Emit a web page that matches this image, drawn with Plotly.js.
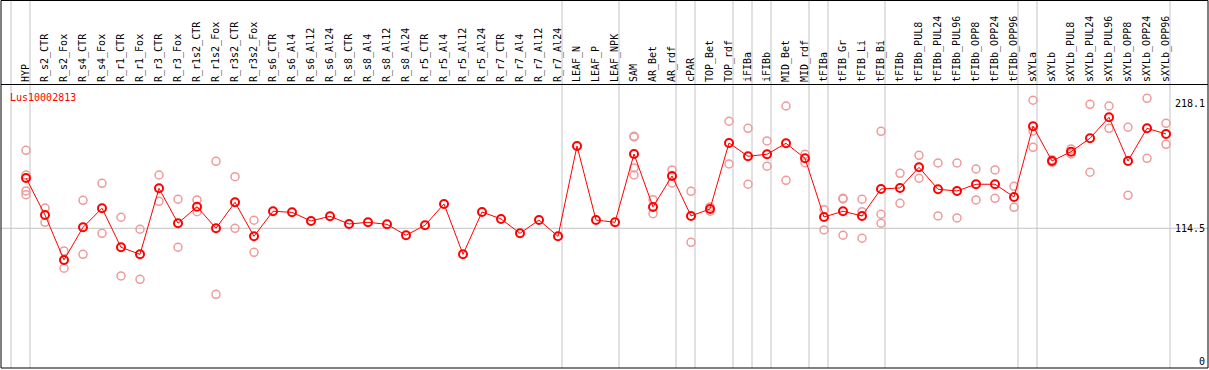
<!DOCTYPE html>
<html>
<head>
<meta charset="utf-8">
<script src="https://cdn.plot.ly/plotly-3.0.1.min.js"></script>
<style>
  html, body { margin: 0; padding: 0; background: #fff; }
  #chart { width: 1209px; height: 370px; }
</style>
</head>
<body>
<div id="chart"></div>
<script>
const categories = [
  "HYP","R_s2_CTR","R_s2_Fox","R_s4_CTR","R_s4_Fox","R_r1_CTR","R_r1_Fox","R_r3_CTR","R_r3_Fox",
  "R_r1s2_CTR","R_r1s2_Fox","R_r3s2_CTR","R_r3s2_Fox","R_s6_CTR","R_s6_Al4","R_s6_Al12","R_s6_Al24",
  "R_s8_CTR","R_s8_Al4","R_s8_Al12","R_s8_Al24","R_r5_CTR","R_r5_Al4","R_r5_Al12","R_r5_Al24",
  "R_r7_CTR","R_r7_Al4","R_r7_Al12","R_r7_Al24","LEAF_N","LEAF_P","LEAF_NPK","SAM","AR_Bet","AR_rdf",
  "cPAR","TOP_Bet","TOP_rdf","iFIBa","iFIBb","MID_Bet","MID_rdf","tFIBa","tFIB_Gr","tFIB_Li","tFIB_Bi",
  "tFIBb","tFIBb_PUL8","tFIBb_PUL24","tFIBb_PUL96","tFIBb_OPP8","tFIBb_OPP24","tFIBb_OPP96",
  "sXYLa","sXYLb","sXYLb_PUL8","sXYLb_PUL24","sXYLb_PUL96","sXYLb_OPP8","sXYLb_OPP24","sXYLb_OPP96"
];

const means = [
  156.4,125.6,88.1,115.3,131.2,98.7,92.8,147.8,118.7,
  132.5,114.5,136.2,107.8,128.7,127.8,120.6,124.5,
  118.1,119.5,117.8,108.7,117.0,134.8,92.8,128.1,
  122.3,110.3,121.4,107.8,183.1,121.4,119.5,176.4,132.3,158.1,
  124.8,130.6,185.6,174.5,176.2,185.3,172.8,123.9,128.7,124.8,147.3,
  148.1,165.3,147.0,145.6,151.2,151.2,140.6,
  199.5,170.6,178.3,189.5,207.0,170.6,197.8,193.1
];

const rep1 = [
  179.5,131.4,95.6,137.8,152.0,123.7,113.7,158.9,138.7,
  138.1,170.3,157.5,121.2,null,null,null,null,
  null,null,null,null,null,null,null,null,
  null,null,null,null,null,null,null,191.2,138.3,163.1,
  145.3,132.3,203.7,197.8,187.3,216.4,176.2,130.0,139.5,138.7,195.3,
  160.3,175.3,168.9,168.9,163.9,163.1,149.5,
  221.2,171.7,180.6,217.8,216.4,198.7,222.8,202.0
];
const rep2 = [
  158.9,119.5,81.2,92.8,110.3,74.8,72.0,137.0,98.7,
  128.3,59.5,114.5,94.5,null,null,null,null,
  null,null,null,null,null,null,null,null,
  null,null,null,null,null,null,null,190.6,126.7,152.3,
  102.8,128.7,168.1,151.2,166.2,154.5,169.2,113.1,138.9,128.3,126.2,
  135.3,156.2,124.8,123.1,138.1,139.5,132.0,
  195.6,169.5,176.4,161.2,197.8,142.0,172.8,184.5
];
const rep3 = [
  145.6,null,null,null,null,null,null,null,null,
  null,null,null,null,null,null,null,null,
  null,null,null,null,null,null,null,null,
  null,null,null,null,null,null,null,164.8,null,null,
  null,null,null,null,null,null,null,null,108.7,106.2,118.7,
  null,null,null,null,null,null,null,
  182.0,null,null,null,null,null,null,null
];
const rep4 = [
  142.5,null,null,null,null,null,null,null,null,
  null,null,null,null,null,null,null,null,
  null,null,null,null,null,null,null,null,
  null,null,null,null,null,null,null,158.9,null,null,
  null,null,null,null,null,null,null,null,null,null,null,
  null,null,null,null,null,null,null,
  null,null,null,null,null,null,null,null
];

// indices of the categories that start a new group (separator lines)
const groupStarts = [0,1,29,32,35,36,38,39,40,42,43,46,53,54,61];

const geneName = "Lus10002813";
const yMainTicks = [114.5, 218.1];
const yMainText = ["114.5", "218.1"];
const yZeroTicks = [0];
const yZeroText = ["0"];
const refLevel = 114.5;

const FONT = "DejaVu Sans Mono, Liberation Mono, monospace";
const REP_COLOR = "#ee9a9a";
const MEAN_COLOR = "#ff0000";
const GRID = "#c4c4c4";

const xRange = [-1.316, 62.21];
const yRange = [-1.92, 233.9];

function repTrace(vals) {
  return {
    x: categories, y: vals, type: "scatter", mode: "markers",
    marker: { symbol: "circle-open", size: 8, color: REP_COLOR, line: { width: 1.5, color: REP_COLOR } },
    hoverinfo: "skip", cliponaxis: false
  };
}

const traces = [
  repTrace(rep1), repTrace(rep2), repTrace(rep3), repTrace(rep4),
  {
    x: categories, y: means, type: "scatter", mode: "lines+markers",
    line: { color: MEAN_COLOR, width: 1 },
    marker: { symbol: "circle-open", size: 8, color: MEAN_COLOR, line: { width: 2, color: MEAN_COLOR } }
  },
  {
    x: [categories[0]], y: [null], type: "scatter", mode: "markers", yaxis: "y2",
    hoverinfo: "skip", showlegend: false
  }
];

const topPaper = 1 + 85 / 283;
const shapes = groupStarts.map(b => ({
  type: "line", xref: "x", yref: "paper",
  x0: b - 15 / 19, x1: b - 15 / 19, y0: 0, y1: topPaper,
  line: { color: GRID, width: 1 }, layer: "below"
}));
shapes.push({
  type: "line", xref: "paper", yref: "y", x0: 0, x1: 1, y0: refLevel, y1: refLevel,
  line: { color: GRID, width: 1 }, layer: "below"
});
shapes.push({
  type: "rect", xref: "paper", yref: "paper", x0: 0, x1: 1, y0: 0, y1: 1 + 84.5 / 283,
  line: { color: "#000", width: 1 }, fillcolor: "rgba(0,0,0,0)", layer: "above"
});

const layout = {
  width: 1209, height: 370,
  margin: { l: 1, r: 1, t: 85, b: 2, pad: 0 },
  paper_bgcolor: "#ffffff", plot_bgcolor: "rgba(0,0,0,0)",
  showlegend: false,
  font: { family: FONT, size: 10, color: "#000" },
  title: {
    text: geneName, font: { family: FONT, size: 10, color: MEAN_COLOR },
    xref: "container", yref: "container", x: 10 / 1209, xanchor: "left",
    y: 1 - 97 / 370, yanchor: "middle"
  },
  xaxis: {
    type: "category", categoryorder: "array", categoryarray: categories,
    range: xRange, side: "top", tickangle: -90, ticks: "",
    showline: true, linecolor: "#000", linewidth: 1,
    showgrid: false, zeroline: false, automargin: false, fixedrange: true,
    tickfont: { family: FONT, size: 10, color: "#000" }
  },
  yaxis: {
    range: yRange, side: "right", ticklabelposition: "inside",
    tickvals: yMainTicks, ticktext: yMainText, ticks: "",
    ticklabelshift: 3.5, ticklabeloverflow: "allow", ticklabelstandoff: 0,
    showgrid: false, zeroline: false, showline: false, automargin: false, fixedrange: true,
    tickfont: { family: FONT, size: 10, color: "#000" }
  },
  yaxis2: {
    range: yRange, overlaying: "y", side: "right", ticklabelposition: "inside",
    tickvals: yZeroTicks, ticktext: yZeroText, ticks: "",
    ticklabelshift: -4, ticklabeloverflow: "allow", ticklabelstandoff: 0,
    showgrid: false, zeroline: false, showline: false, automargin: false, fixedrange: true,
    tickfont: { family: FONT, size: 10, color: "#000" }
  },
  shapes: shapes
};

Plotly.newPlot("chart", traces, layout, { staticPlot: true, displayModeBar: false });
</script>
</body>
</html>
